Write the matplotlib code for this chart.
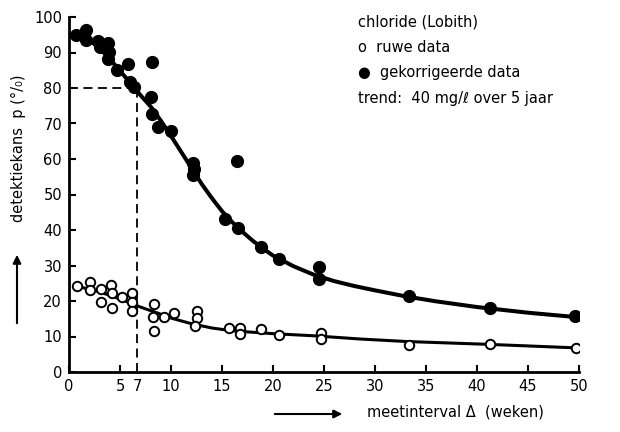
import numpy as np
import matplotlib
matplotlib.use("Agg")
import matplotlib.pyplot as plt

# gekorrigeerde data (filled dots): meetinterval (weken), detektiekans (%)
corr_x = [0.7, 1.7, 1.7, 2.8, 3.0, 3.8, 3.9, 3.8, 4.7, 5.8, 8.1, 6.0, 6.4,
          8.0, 8.1, 8.7, 10.0, 12.2, 12.3, 12.2, 16.5, 15.3, 16.6, 18.8,
          20.6, 24.5, 24.5, 33.3, 41.3, 49.6]
corr_y = [95.0, 96.4, 93.4, 93.1, 91.5, 92.6, 90.1, 88.1, 85.0, 86.8, 87.4, 81.6, 80.4,
          77.4, 72.8, 69.0, 68.0, 58.8, 57.3, 55.5, 59.5, 43.2, 40.7, 35.1,
          31.7, 29.6, 26.1, 21.4, 18.1, 15.8]

# ruwe data (open dots)
raw_x = [0.75, 2.1, 2.1, 3.1, 3.1, 4.1, 4.2, 4.2, 5.2, 6.2, 6.2, 6.2,
         8.3, 8.2, 8.3, 9.3, 10.3, 12.5, 12.5, 12.4, 15.7, 16.8, 16.8,
         18.8, 20.6, 24.7, 24.7, 33.3, 41.3, 49.7]
raw_y = [24.2, 25.4, 23.1, 23.3, 19.8, 24.5, 22.2, 17.9, 21.2, 22.3, 19.8, 17.2,
         19.2, 15.4, 11.6, 15.4, 16.7, 17.3, 15.1, 12.9, 12.5, 12.5, 10.8,
         12.1, 10.5, 10.9, 9.2, 7.7, 7.9, 6.9]

# trend curves
corr_curve_x = [1.0, 2.0, 3.0, 4.0, 5.0, 6.0, 7.0, 8.0, 9.0, 10.0, 11.0, 12.0,
                13.0, 14.0, 15.0, 16.0, 17.0, 18.0, 19.0, 20.0, 22.0, 24.0,
                26.0, 28.0, 30.0, 33.0, 36.0, 40.0, 45.0, 49.6]
corr_curve_y = [95.5, 93.5, 91.2, 88.2, 84.8, 81.5, 78.0, 74.8, 70.8, 66.5, 62.0, 57.5,
                53.0, 49.0, 45.3, 42.2, 39.5, 37.0, 34.8, 32.8, 29.8, 27.4,
                25.6, 24.2, 23.0, 21.3, 19.9, 18.3, 16.7, 15.5]
raw_curve_x = [1.0, 2.5, 4.0, 5.5, 7.0, 8.5, 10.0, 12.0, 14.0, 16.0, 18.0, 20.0,
               24.0, 28.5, 33.0, 41.0, 49.7]
raw_curve_y = [24.0, 23.0, 21.6, 20.0, 18.3, 16.8, 15.2, 13.6, 12.4, 11.6, 11.2, 10.8,
               10.2, 9.3, 8.6, 7.8, 6.8]

# 80% detection point
p80_x = 6.7
p80_y = 80

xticks = [0, 5, p80_x, 10, 15, 20, 25, 30, 35, 40, 45, 50]
xticklabels = ["0", "5", "7", "10", "15", "20", "25", "30", "35", "40", "45", "50"]
yticks = list(range(0, 101, 10))

fig = plt.figure(figsize=(6.2, 4.32), dpi=100)
ax = fig.add_axes([69 / 620, 60 / 432, 510 / 620, 355 / 432])

ax.plot(corr_curve_x, corr_curve_y, color="black", lw=2.9, solid_capstyle="round")
ax.plot(raw_curve_x, raw_curve_y, color="black", lw=2.2, solid_capstyle="round")
ax.plot(corr_x, corr_y, "o", color="black", ms=8.5, zorder=3)
ax.plot(raw_x, raw_y, "o", mfc="white", mec="black", ms=6.8, mew=1.4, zorder=3)

# dashed guide lines
ax.plot([0, p80_x], [p80_y, p80_y], "--", color="black", lw=1.3, dashes=(5, 3))
ax.plot([p80_x, p80_x], [0, p80_y], "--", color="black", lw=1.3, dashes=(5, 3))

ax.set_xlim(0, 50)
ax.set_ylim(0, 100)
ax.set_xticks(xticks)
ax.set_xticklabels(xticklabels)
ax.set_yticks(yticks)
ax.xaxis.get_major_ticks()[2].tick1line.set_visible(False)
ax.tick_params(direction="in", length=5, width=1.5, labelsize=10.5, pad=5)

for side in ["top", "right"]:
    ax.spines[side].set_visible(False)
for side in ["left", "bottom"]:
    ax.spines[side].set_linewidth(2)

# legend-like text block
tx = 358 / 620
fs = 10.5
fig.text(tx, 1 - 22 / 432, "chloride (Lobith)", fontsize=fs, va="center")
fig.text(tx, 1 - 48 / 432, "o  ruwe data", fontsize=fs, va="center")
fig.text(tx, 1 - 73 / 432, "●  gekorrigeerde data", fontsize=fs, va="center")
fig.text(tx, 1 - 98 / 432, "trend:  40 mg/ℓ over 5 jaar", fontsize=fs, va="center")

# axis labels with arrows
fig.text(18 / 620, 1 - 148 / 432, "detektiekans  p (°/₀)", rotation=90,
         fontsize=fs, ha="center", va="center")
fig.text(367 / 620, 1 - 412 / 432, "meetinterval Δ  (weken)", fontsize=fs,
         ha="left", va="center")
fig.patches.append(matplotlib.patches.FancyArrowPatch(
    (17 / 620, 1 - 326 / 432), (17 / 620, 1 - 252 / 432), transform=fig.transFigure,
    arrowstyle="-|>", mutation_scale=12, lw=1.5, color="black"))
fig.patches.append(matplotlib.patches.FancyArrowPatch(
    (272 / 620, 1 - 414 / 432), (345 / 620, 1 - 414 / 432), transform=fig.transFigure,
    arrowstyle="-|>", mutation_scale=12, lw=1.5, color="black"))

fig.savefig("out.png", dpi=100)
